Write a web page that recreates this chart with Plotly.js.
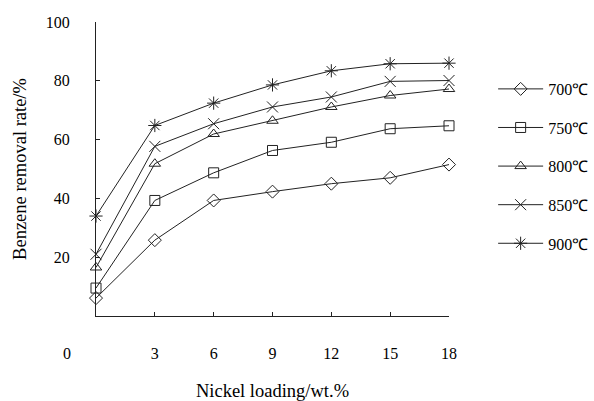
<!DOCTYPE html>
<html>
<head>
<meta charset="utf-8">
<script src="https://cdn.plot.ly/plotly-3.0.1.min.js"></script>
<style>html,body{margin:0;padding:0;background:#fff;}#chart{width:594px;height:401px;}</style>
</head>
<body>
<div id="chart"></div>
<script>
const nickelLoading = [0, 3, 6, 9, 12, 15, 18];
const xTickVals = [3, 6, 9, 12, 15, 18];
const yTickVals = [20, 40, 60, 80, 100];
const seriesNames = ["700℃", "750℃", "800℃", "850℃", "900℃"];
const removal700 = [6.1, 25.8, 39.3, 42.3, 45.0, 47.0, 51.5];
const removal750 = [9.5, 39.3, 48.7, 56.3, 59.1, 63.7, 64.7];
const removal800 = [16.5, 51.8, 61.9, 66.4, 71.1, 75.0, 77.2];
const removal850 = [21.0, 57.7, 65.4, 71.1, 74.5, 79.8, 80.1];
const removal900 = [34.0, 64.8, 72.4, 78.6, 83.4, 85.8, 86.0];

const seriesValues = [removal700, removal750, removal800, removal850, removal900];
const symbols = ["diamond-open", "square-open", "triangle-up-open", "x-thin-open", "asterisk-open"];
const sizes = [10, 10, 10, 11, 11];
const ink = "#222";
const fontFam = '"Liberation Serif", "Times New Roman", serif';

const traces = seriesValues.map((vals, i) => ({
  x: nickelLoading,
  y: vals,
  name: seriesNames[i],
  legendgroup: "g" + i,
  type: "scatter",
  mode: "lines+markers",
  cliponaxis: false,
  line: {color: ink, width: 1},
  marker: {symbol: symbols[i], size: sizes[i], color: ink, line: {color: ink, width: 1}}
}));

const layout = {
  width: 594, height: 401,
  margin: {l: 96, r: 145, t: 22, b: 85, autoexpand: false},
  paper_bgcolor: "#fff", plot_bgcolor: "#fff",
  font: {family: fontFam, size: 16, color: "#000"},
  showlegend: true,
  legend: {x: 1.125, xanchor: "left", y: 0.83, yanchor: "top", tracegroupgap: 14.8,
           font: {family: fontFam, size: 16, color: "#000"}, itemwidth: 45, bgcolor: "rgba(0,0,0,0)"},
  xaxis: {
    range: [0, 18], tickvals: xTickVals, ticktext: xTickVals.map(String),
    showline: true, linecolor: ink, linewidth: 1, ticks: "inside", ticklen: 4, tickcolor: ink,
    showgrid: false, zeroline: false, ticklabelstandoff: 23,
    title: {text: "Nickel loading/wt.%", font: {family: fontFam, size: 18.5}, standoff: 28},
    automargin: false
  },
  yaxis: {
    range: [0, 100], tickvals: yTickVals, ticktext: yTickVals.map(String),
    showline: true, linecolor: ink, linewidth: 1, ticks: "inside", ticklen: 4, tickcolor: ink,
    showgrid: false, zeroline: false, ticklabelstandoff: 22,
    title: {text: "Benzene removal rate/%", font: {family: fontFam, size: 18.5}, standoff: 14},
    automargin: false
  },
  annotations: [{
    text: "0", xref: "paper", yref: "paper", x: -0.082, y: -0.126,
    xanchor: "center", yanchor: "middle", showarrow: false,
    font: {family: fontFam, size: 16, color: "#000"}
  }]
};

Plotly.newPlot("chart", traces, layout, {staticPlot: true, displayModeBar: false});
</script>
</body>
</html>
